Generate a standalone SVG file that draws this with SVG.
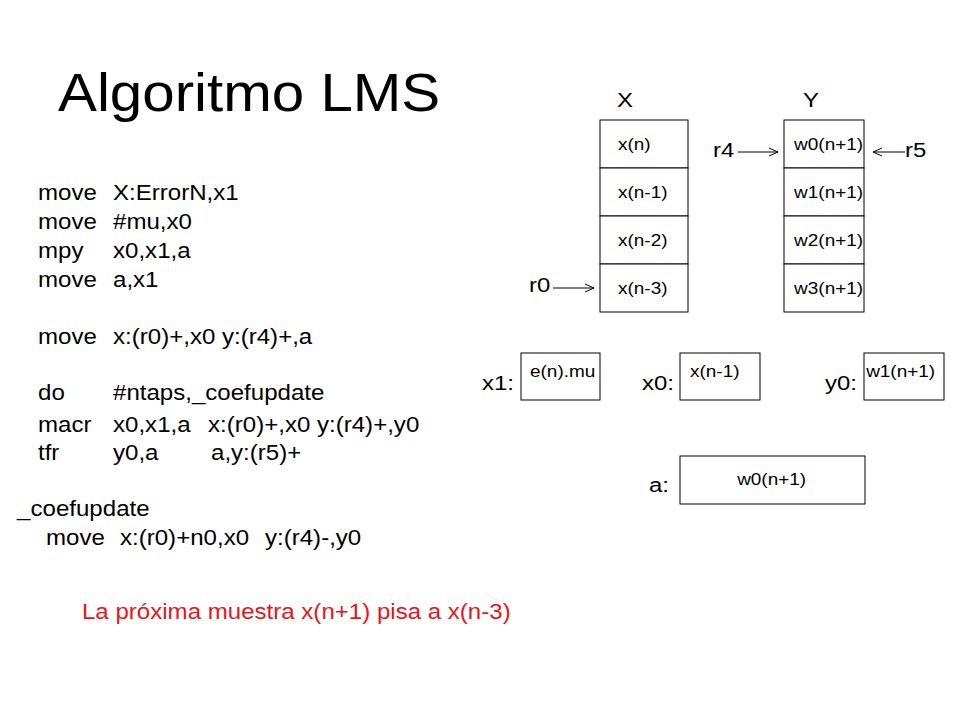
<svg xmlns="http://www.w3.org/2000/svg" width="960" height="720" viewBox="0 0 960 720">
<style>
text{font-family:"Liberation Sans",Arial,sans-serif;fill:#000;transform-box:fill-box;transform-origin:0% 50%}
.t{font-size:53px;transform:scaleX(1.1)}
.c{font-size:21.5px;transform:scaleX(1.12)}
.l{font-size:21px;transform:scaleX(1.14)}
.s{font-size:16.5px;transform:scaleX(1.15)}
.red{font-size:21.5px;fill:#e8141c;transform:scaleX(1.12)}
.box{fill:#fff;stroke:#000;stroke-width:1}
.conn{stroke:#000;stroke-width:1;fill:none}
</style>
<defs>
<marker id="ah" viewBox="0 0 10 10" refX="10" refY="5" markerWidth="10" markerHeight="10" markerUnits="userSpaceOnUse" orient="auto">
<path d="M1,1 L10,5 L1,9" fill="none" stroke="#000" stroke-width="1"/>
</marker>
</defs>
<rect width="960" height="720" fill="#fff"/>
<text class="t" x="58" y="111">Algoritmo LMS</text>
<g id="code">
<text class="c" x="38" y="200">move</text><text class="c" x="113" y="200">X:ErrorN,x1</text>
<text class="c" x="38" y="229">move</text><text class="c" x="113" y="229">#mu,x0</text>
<text class="c" x="38" y="258">mpy</text><text class="c" x="113" y="258">x0,x1,a</text>
<text class="c" x="38" y="287">move</text><text class="c" x="113" y="287">a,x1</text>
<text class="c" x="38" y="344">move</text><text class="c" x="113" y="344">x:(r0)+,x0 y:(r4)+,a</text>
<text class="c" x="38" y="400">do</text><text class="c" x="113" y="400">#ntaps,_coefupdate</text>
<text class="c" x="38" y="432">macr</text><text class="c" x="113" y="432">x0,x1,a</text><text class="c" x="208" y="432">x:(r0)+,x0 y:(r4)+,y0</text>
<text class="c" x="38" y="460">tfr</text><text class="c" x="113" y="460">y0,a</text><text class="c" x="211" y="460">a,y:(r5)+</text>
<text class="c" x="17" y="516">_coefupdate</text>
<text class="c" x="46" y="545">move</text><text class="c" x="120" y="545">x:(r0)+n0,x0</text><text class="c" x="265" y="545">y:(r4)-,y0</text>
<text class="red" x="82" y="619">La próxima muestra x(n+1) pisa a x(n-3)</text>
</g>
<g id="memX">
<text class="l" x="617" y="107">X</text>
<rect class="box" x="600" y="120" width="88" height="48"/>
<rect class="box" x="600" y="168" width="88" height="48"/>
<rect class="box" x="600" y="216" width="88" height="48"/>
<rect class="box" x="600" y="264" width="88" height="48"/>
<text class="s" x="618" y="150">x(n)</text>
<text class="s" x="618" y="198">x(n-1)</text>
<text class="s" x="618" y="246">x(n-2)</text>
<text class="s" x="618" y="294">x(n-3)</text>
</g>
<g id="memY">
<text class="l" x="803" y="107">Y</text>
<rect class="box" x="784" y="120" width="80" height="48"/>
<rect class="box" x="784" y="168" width="80" height="48"/>
<rect class="box" x="784" y="216" width="80" height="48"/>
<rect class="box" x="784" y="264" width="80" height="48"/>
<text class="s" x="794" y="150">w0(n+1)</text>
<text class="s" x="794" y="198">w1(n+1)</text>
<text class="s" x="794" y="246">w2(n+1)</text>
<text class="s" x="794" y="294">w3(n+1)</text>
</g>
<g id="r4"><text class="l" x="713" y="157">r4</text></g>
<g id="r5"><text class="l" x="905" y="157">r5</text></g>
<g id="r0"><text class="l" x="529" y="292">r0</text></g>
<g id="regx1">
<text class="l" x="482" y="390">x1:</text>
<rect class="box" x="521" y="353" width="79" height="47"/>
<text class="s" x="530" y="377">e(n).mu</text>
</g>
<g id="regx0">
<text class="l" x="642" y="390">x0:</text>
<rect class="box" x="680" y="353" width="80" height="47"/>
<text class="s" x="690" y="377">x(n-1)</text>
</g>
<g id="regy0">
<text class="l" x="825" y="390">y0:</text>
<rect class="box" x="864" y="353" width="80" height="47"/>
<text class="s" x="866" y="377">w1(n+1)</text>
</g>
<g id="rega">
<text class="l" x="649" y="492">a:</text>
<rect class="box" x="680" y="456" width="185" height="48"/>
<text class="s" x="737" y="485">w0(n+1)</text>
</g>
<g id="connectors">
<line class="conn" x1="738" y1="152" x2="778" y2="152" marker-end="url(#ah)"/>
<line class="conn" x1="905" y1="152" x2="873" y2="152" marker-end="url(#ah)"/>
<line class="conn" x1="553" y1="288" x2="594" y2="288" marker-end="url(#ah)"/>
</g>
</svg>
